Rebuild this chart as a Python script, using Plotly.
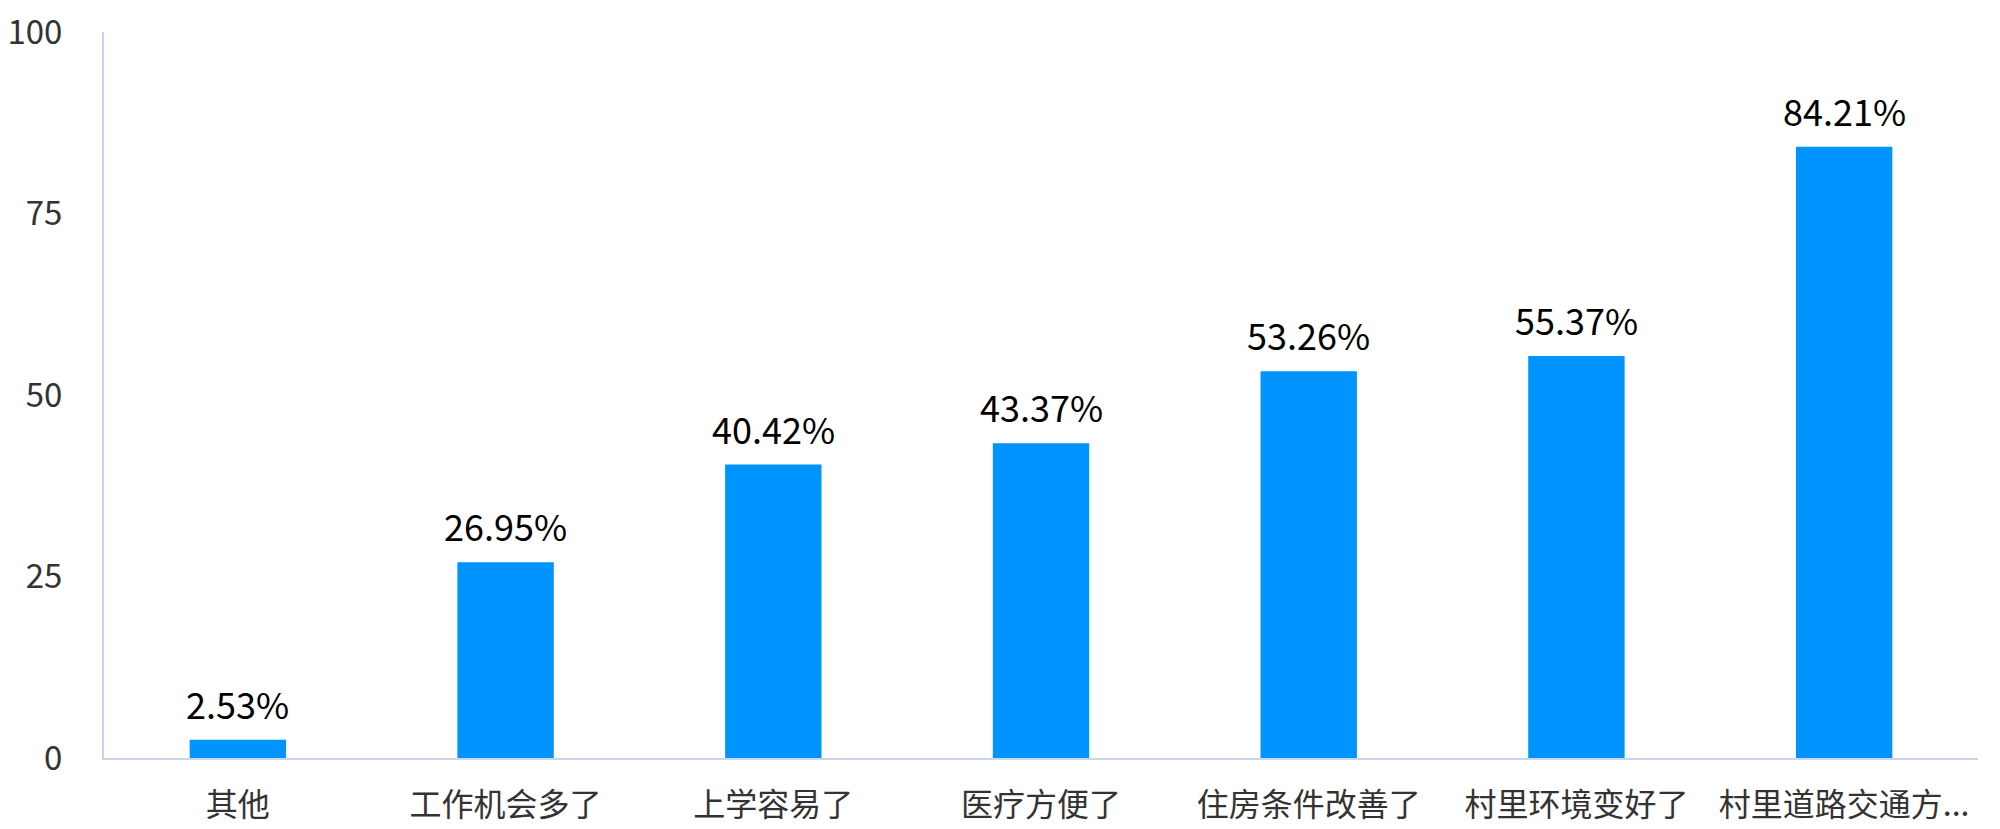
import plotly.graph_objects as go

# categories and shares (%)
categories = ["其他", "工作机会多了", "上学容易了", "医疗方便了",
              "住房条件改善了", "村里环境变好了", "村里道路交通方..."]
values = [2.53, 26.95, 40.42, 43.37, 53.26, 55.37, 84.21]
y_ticks = [0, 25, 50, 75, 100]

FONT = "Noto Sans CJK SC, Segoe UI, sans-serif"
AXIS_COLOR = "#ccd6eb"

fig = go.Figure()
fig.add_trace(go.Bar(x=categories, y=values, marker_color="#0094ff",
                     marker_line_width=0, hoverinfo="x+y"))

# value labels above the bars
for cat, val in zip(categories, values):
    fig.add_annotation(x=cat, y=val, text=f"{val:.2f}%", showarrow=False,
                       yanchor="bottom", yshift=9,
                       font=dict(family=FONT, size=36, color="#000000"))

fig.update_layout(
    width=2000, height=829,
    margin=dict(l=104, r=22, t=32, b=71),
    plot_bgcolor="white", paper_bgcolor="white",
    bargap=0.64, showlegend=False,
    font=dict(family=FONT, color="#333333"),
)
fig.update_xaxes(showline=True, linecolor=AXIS_COLOR, linewidth=2,
                 automargin=False,
                 ticks="outside", ticklen=18, tickcolor="rgba(0,0,0,0)",
                 tickfont=dict(size=32, color="#333333"), showgrid=False)
fig.update_yaxes(range=[0, 100], tickvals=y_ticks, showline=True,
                 automargin=False, ticklabeloverflow="allow",
                 linecolor=AXIS_COLOR, linewidth=2, showgrid=False,
                 zeroline=False, ticks="outside", ticklen=33,
                 tickcolor="rgba(0,0,0,0)",
                 tickfont=dict(size=33, color="#333333"))

# drop the default page margin so the figure fills the window exactly
fig.write_html("out.html", config={"displayModeBar": False},
               post_script="document.body.style.margin = '0';")
